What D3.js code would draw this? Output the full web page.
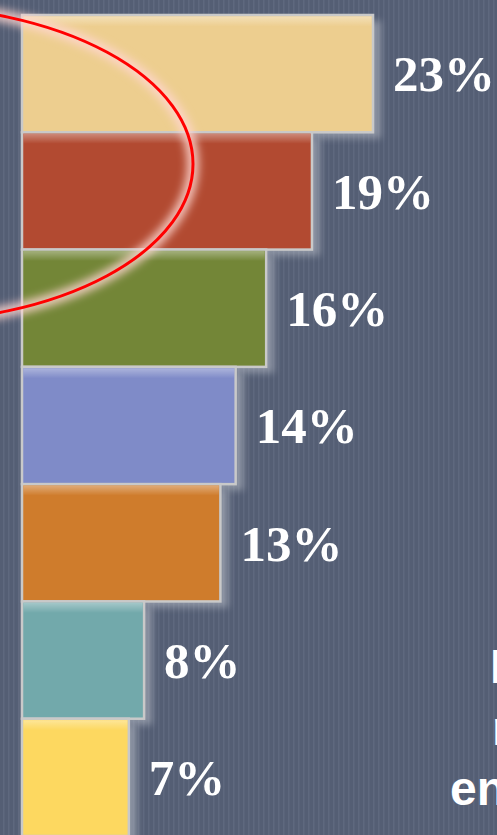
<!DOCTYPE html>
<html>
<head>
<meta charset="utf-8">
<script src="https://cdn.jsdelivr.net/npm/d3@7"></script>
<style>
  html, body { margin: 0; padding: 0; background: #555f75; overflow: hidden; }
  svg { display: block; }
</style>
</head>
<body>
<div id="chart"></div>
<script>
var W = 497, H = 835;

// data
var categories = ["a", "b", "c", "d", "e", "f", "g"];
var shares = [23, 19, 16, 14, 13, 8, 7];
var labels = ["23%", "19%", "16%", "14%", "13%", "8%", "7%"];
var barColors = ["#edce8f", "#b24a31", "#738637", "#7f8bc8", "#cf7c2c", "#72a9ab", "#fdd860"];
var sideLines = ["Most", "recent", "energy"];

var svg = d3.select("#chart").append("svg")
  .attr("width", W)
  .attr("height", H);

var defs = svg.append("defs");

// striped background
var pat = defs.append("pattern")
  .attr("id", "stripes")
  .attr("width", 5).attr("height", 4)
  .attr("patternUnits", "userSpaceOnUse");
pat.append("rect").attr("width", 5).attr("height", 4).attr("fill", "#545e74");
pat.append("rect").attr("x", 3).attr("width", 1.5).attr("height", 4).attr("fill", "#5e687e");

var shadowF = defs.append("filter").attr("id", "soft")
  .attr("x", "-20%").attr("y", "-20%").attr("width", "140%").attr("height", "140%");
shadowF.append("feGaussianBlur").attr("stdDeviation", 3.5);

var glowF = defs.append("filter").attr("id", "glow")
  .attr("x", "-50%").attr("y", "-50%").attr("width", "200%").attr("height", "200%");
glowF.append("feGaussianBlur").attr("stdDeviation", 4);

var topFade = defs.append("linearGradient")
  .attr("id", "topfade").attr("x1", 0).attr("y1", 0).attr("x2", 0).attr("y2", 1);
topFade.append("stop").attr("offset", 0).attr("stop-color", "#ffffff").attr("stop-opacity", 0.35);
topFade.append("stop").attr("offset", 1).attr("stop-color", "#ffffff").attr("stop-opacity", 0);

svg.append("rect").attr("width", W).attr("height", H).attr("fill", "url(#stripes)");

var x0 = 22;
var x = d3.scaleLinear().domain([0, 23]).range([x0, 373]);
var y = d3.scaleBand().domain(categories).range([15, 836]).paddingInner(0);

// light drop shadows behind bars
svg.append("g").selectAll("rect")
  .data(categories)
  .join("rect")
  .attr("x", x0 + 2)
  .attr("y", (d) => y(d) + 6)
  .attr("width", (d, i) => x(shares[i]) - x0 + 6)
  .attr("height", y.bandwidth())
  .attr("fill", "#b9bec8")
  .attr("opacity", 0.55)
  .attr("filter", "url(#soft)");

var bars = svg.append("g");
bars.selectAll("rect.bar")
  .data(categories)
  .join("rect")
  .attr("class", "bar")
  .attr("x", x0)
  .attr("y", (d) => y(d))
  .attr("width", (d, i) => x(shares[i]) - x0)
  .attr("height", y.bandwidth())
  .attr("fill", (d, i) => barColors[i])
  .attr("stroke", "#c9c9c9")
  .attr("stroke-width", 2.5);

bars.selectAll("rect.fade")
  .data(categories)
  .join("rect")
  .attr("class", "fade")
  .attr("x", x0 + 1.5)
  .attr("y", (d) => y(d) + 1.5)
  .attr("width", (d, i) => x(shares[i]) - x0 - 3)
  .attr("height", 10)
  .attr("fill", "url(#topfade)");

// value labels
svg.append("g").selectAll("text")
  .data(categories)
  .join("text")
  .attr("x", (d, i) => x(shares[i]) + 20)
  .attr("y", (d) => y(d) + y.bandwidth() / 2)
  .attr("dy", "0.35em")
  .attr("fill", "#ffffff")
  .style("font-family", "'Liberation Serif', 'Times New Roman', serif")
  .style("font-weight", "bold")
  .style("font-size", "51px")
  .text((d, i) => labels[i]);

// red ring annotation
var ring = { cx: -100, cy: 164, rx: 293, ry: 158 };
var ringG = svg.append("g")
  .attr("transform", "translate(" + ring.cx + "," + ring.cy + ")");
ringG.append("ellipse")
  .attr("rx", ring.rx).attr("ry", ring.ry)
  .attr("fill", "none")
  .attr("stroke", "#ffd6d0")
  .attr("stroke-opacity", 0.85)
  .attr("stroke-width", 12)
  .attr("filter", "url(#glow)");
ringG.append("ellipse")
  .attr("rx", ring.rx).attr("ry", ring.ry)
  .attr("fill", "none")
  .attr("stroke", "#ff0000")
  .attr("stroke-width", 3);

// side text, cut off by the right edge as in the original
var sideX = [490, 492, 450];
var sideY = [683, 745, 805];
svg.append("g").selectAll("text")
  .data(sideLines)
  .join("text")
  .attr("x", (d, i) => sideX[i])
  .attr("y", (d, i) => sideY[i])
  .attr("fill", "#ffffff")
  .style("font-family", "'Liberation Sans', Arial, sans-serif")
  .style("font-weight", "bold")
  .style("font-size", "48px")
  .text((d) => d);
</script>
</body>
</html>
